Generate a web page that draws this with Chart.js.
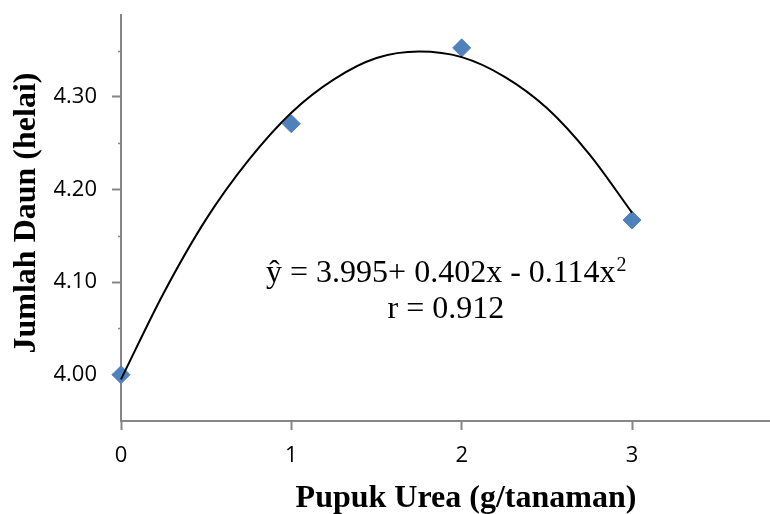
<!DOCTYPE html>
<html><head><meta charset="utf-8">
<script src="https://cdn.jsdelivr.net/npm/chart.js@4"></script>
<style>html,body{margin:0;padding:0;background:#fff}canvas{display:block}</style>
</head><body>
<canvas id="c" width="770" height="514" style="width:770px;height:514px"></canvas>
<script>
// ---- data ----
const urea = [0, 1, 2, 3];
const daun = [4.000, 4.271, 4.353, 4.167];
const trendX = [0, 0.25, 0.5, 0.75, 1, 1.25, 1.5, 1.75, 2, 2.25, 2.5, 2.75, 3];
const trendY = [3.995, 4.088, 4.168, 4.232, 4.283, 4.319, 4.342, 4.349, 4.343, 4.322, 4.288, 4.238, 4.175];
const xTicks = [0, 1, 2, 3];
const yTicks = [4.00, 4.10, 4.20, 4.30];
const yMinorTicks = [4.05, 4.15, 4.25, 4.35];
const xTitle = 'Pupuk Urea (g/tanaman)';
const yTitle = 'Jumlah Daun (helai)';
const eqLine1 = 'ŷ = 3.995+ 0.402x - 0.114x';
const eqSup = '2';
const eqLine2 = 'r = 0.912';

const AXIS = '#868686';
const BLUE = '#4F81BD';

const extras = {
  id: 'extras',
  afterDraw(chart) {
    const ctx = chart.ctx, ca = chart.chartArea;
    const xs = chart.scales.x, ys = chart.scales.y;
    ctx.save();
    // minor ticks on y axis
    ctx.strokeStyle = AXIS; ctx.lineWidth = 1.5;
    yMinorTicks.forEach(v => {
      const py = Math.round(ys.getPixelForValue(v)) + 0.5;
      ctx.beginPath(); ctx.moveTo(ca.left - 3, py); ctx.lineTo(ca.left, py); ctx.stroke();
    });
    // equation text
    ctx.fillStyle = '#000';
    ctx.textBaseline = 'alphabetic';
    const cx = xs.getPixelForValue(1.907);
    ctx.font = '32px "Liberation Serif", "Times New Roman", serif';
    const w1 = ctx.measureText(eqLine1).width;
    ctx.font = '20px "Liberation Serif", "Times New Roman", serif';
    const ws = ctx.measureText(eqSup).width;
    const start = cx - (w1 + ws) / 2;
    const b1 = ys.getPixelForValue(4.1004);
    ctx.font = '32px "Liberation Serif", "Times New Roman", serif';
    ctx.textAlign = 'left';
    ctx.fillText(eqLine1, start, b1);
    ctx.font = '20px "Liberation Serif", "Times New Roman", serif';
    ctx.fillText(eqSup, start + w1 + 1, b1 - 11);
    ctx.font = '32px "Liberation Serif", "Times New Roman", serif';
    ctx.textAlign = 'center';
    ctx.fillText(eqLine2, cx, ys.getPixelForValue(4.0615));
    // axis titles
    ctx.font = 'bold 32px "Liberation Serif", "Times New Roman", serif';
    ctx.textAlign = 'center';
    ctx.fillText(xTitle, 466, 507);
    ctx.translate(35, 213);
    ctx.rotate(-Math.PI / 2);
    ctx.fillText(yTitle, 0, 0);
    ctx.restore();
  }
};

new Chart(document.getElementById('c'), {
  type: 'scatter',
  data: {
    datasets: [
      {
        label: 'trend',
        data: trendX.map((x, i) => ({ x, y: trendY[i] })),
        showLine: true,
        borderColor: '#000',
        borderWidth: 2,
        pointRadius: 0,
        cubicInterpolationMode: 'monotone',
        fill: false,
        clip: false,
        order: 0
      },
      {
        label: 'data',
        data: urea.map((x, i) => ({ x, y: daun[i] })),
        pointStyle: 'rectRot',
        pointRadius: 9,
        backgroundColor: BLUE,
        borderColor: BLUE,
        borderWidth: 1,
        clip: false,
        order: 1
      }
    ]
  },
  options: {
    responsive: false,
    animation: false,
    devicePixelRatio: 1,
    layout: { autoPadding: false, padding: { top: 15, left: 0, right: 0, bottom: 0 } },
    plugins: { legend: { display: false }, tooltip: { enabled: false } },
    scales: {
      x: {
        type: 'linear',
        min: 0, max: 3.81,
        afterBuildTicks: s => { s.ticks = xTicks.map(v => ({ value: v })); },
        afterFit: s => { s.height = 93; s.paddingLeft = 0; s.paddingRight = 0; },
        grid: { display: true, drawOnChartArea: false, drawTicks: true, tickLength: 9, tickColor: AXIS, tickWidth: 2 },
        border: { display: true, color: AXIS, width: 2 },
        ticks: { color: '#000', font: { family: '"Open Sans", sans-serif', size: 22 }, padding: 13, maxRotation: 0 }
      },
      y: {
        type: 'linear',
        min: 3.95, max: 4.3885,
        afterBuildTicks: s => { s.ticks = yTicks.map(v => ({ value: v })); },
        afterFit: s => { s.width = 121; s.paddingTop = 0; s.paddingBottom = 0; },
        grid: { display: true, drawOnChartArea: false, drawTicks: true, tickLength: 9, tickColor: AXIS, tickWidth: 2 },
        border: { display: true, color: AXIS, width: 2 },
        ticks: { color: '#000', font: { family: '"Open Sans", sans-serif', size: 22 }, padding: 15,
                 callback: v => Number(v).toFixed(2) }
      }
    }
  },
  plugins: [extras]
});
</script>
</body></html>
